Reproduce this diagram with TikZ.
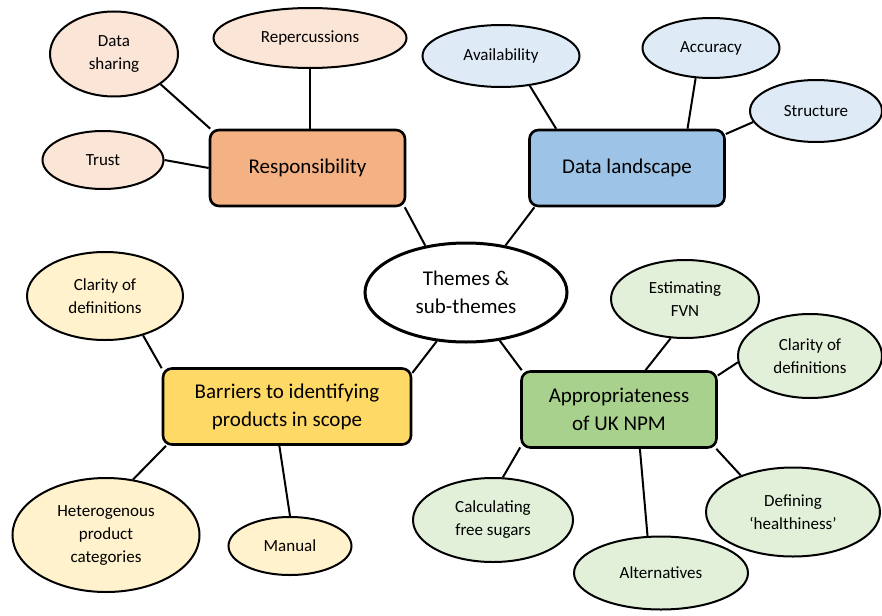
\documentclass[tikz,border=0pt]{standalone}
\usepackage{fontspec}
\setmainfont{Carlito}
\usetikzlibrary{shapes.geometric}
\definecolor{respdark}{HTML}{F4B183}
\definecolor{resplight}{HTML}{FBE5D6}
\definecolor{landdark}{HTML}{9DC3E6}
\definecolor{landlight}{HTML}{DEEBF7}
\definecolor{barrdark}{HTML}{FFD966}
\definecolor{barrlight}{HTML}{FFF2CC}
\definecolor{apprdark}{HTML}{A9D18E}
\definecolor{apprlight}{HTML}{E2F0D9}
\tikzset{
  theme/.style = {
    rectangle, rounded corners=9pt, draw, line width=2.6pt, inner sep=0pt,
    minimum width=195pt, minimum height=76pt, align=center,
    font=\fontsize{21}{28}\selectfont
  },
  subtheme/.style = {
    ellipse, draw, line width=2pt, inner sep=0pt, align=center,
    font=\fontsize{17}{23}\selectfont
  },
  link/.style = {line width=2pt}
}

\begin{document}
\begin{tikzpicture}[x=1pt,y=-1pt]
  \useasboundingbox (0,0) rectangle (882,615);
  % centre
  \node (hub) at (466,292.5) [ellipse, draw, line width=3pt, inner sep=0pt, minimum width=202pt, minimum height=99pt, align=center, font=\fontsize{21}{28}\selectfont] {Themes \&\\sub-themes};
  % themes
  \node (resp)  at (307.5,168) [theme, fill=respdark] {Responsibility};
  \node (dland) at (627,168)   [theme, fill=landdark] {Data landscape};
  \node (barr)  at (287,406.5) [theme, fill=barrdark, minimum width=248pt] {Barriers to identifying\\products in scope};
  \node (appr)  at (619,409.5) [theme, fill=apprdark] {Appropriateness\\of UK NPM};
  % sub-themes
  \node (dshare) at (114,54)  [subtheme, fill=resplight, minimum width=128pt, minimum height=85pt] {Data\\sharing};
  \node (reperc) at (310,38)  [subtheme, fill=resplight, minimum width=193pt, minimum height=60pt] {Repercussions};
  \node (trust)  at (103,160) [subtheme, fill=resplight, minimum width=121pt, minimum height=58pt] {Trust};
  \node (avail)  at (501,56)  [subtheme, fill=landlight, minimum width=157pt, minimum height=62pt] {Availability};
  \node (accur)  at (711,48)  [subtheme, fill=landlight, minimum width=137pt, minimum height=60pt] {Accuracy};
  \node (struct) at (816,111) [subtheme, fill=landlight, minimum width=132pt, minimum height=62pt] {Structure};
  \node (clarL)  at (105,296) [subtheme, fill=barrlight, minimum width=156pt, minimum height=88pt] {Clarity of\\definitions};
  \node (hetero) at (106,535) [subtheme, fill=barrlight, minimum width=187pt, minimum height=114pt] {Heterogenous\\product\\categories};
  \node (manual) at (290,546) [subtheme, fill=barrlight, minimum width=123pt, minimum height=58pt] {Manual};
  \node (fvn)    at (685,299) [subtheme, fill=apprlight, minimum width=148pt, minimum height=78pt] {Estimating\\FVN};
  \node (clarR)  at (810,356) [subtheme, fill=apprlight, minimum width=144pt, minimum height=84pt] {Clarity of\\definitions};
  \node (calc)   at (493,520) [subtheme, fill=apprlight, minimum width=160pt, minimum height=84pt] {Calculating\\free sugars};
  \node (altern) at (661,573) [subtheme, fill=apprlight, minimum width=174pt, minimum height=73pt] {Alternatives};
  \node (defin)  at (793,512) [subtheme, fill=apprlight, minimum width=174pt, minimum height=89pt] {Defining\\`healthiness'};
  % links
  \draw[link] (reperc.south) -- (reperc.south |- resp.north);
  \foreach \a/\b in {dshare.-33/resp.158, trust.east/resp.west,
                     avail.-46/dland.151, accur.243/dland.33, struct.190/dland.19,
                     clarL.-46/barr.163, hetero.64/barr.198, manual.north/barr.259,
                     fvn.250/appr.56, clarR.185/appr.19, defin.145/appr.-22,
                     altern.110/appr.-62.5, calc.77/appr.201,
                     resp.-22/hub.131, dland.203/hub.50, barr.15.7/hub.239, appr.158.6/hub.-55} {%
    \draw[link] (\a) -- (\b);
  }
\end{tikzpicture}
\end{document}
